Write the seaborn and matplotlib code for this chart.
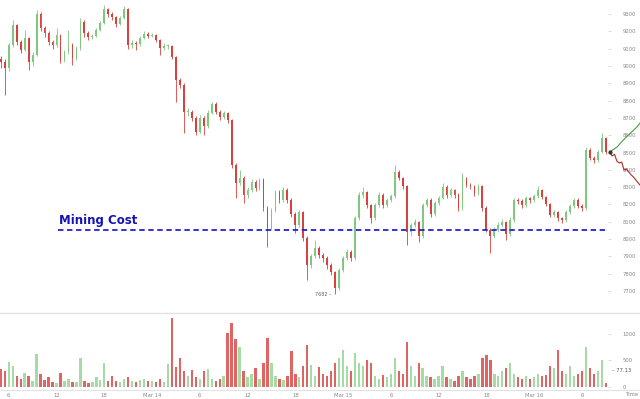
import pandas as pd
import numpy as np
import matplotlib
matplotlib.use("Agg")
import matplotlib.pyplot as plt
import matplotlib.dates as mdates
import seaborn as sns

sns.set_style("white")
plt.rcParams['font.family'] = ['DejaVu Sans']

# 30 dakikalik mumlar (13 Mart 05:00 - 16 Mart 09:00)
first_open = 9040
closes = [9022, 8988, 9121, 9236, 9138, 9092, 9161, 9022, 9063, 9300,
          9219, 9190, 9138, 9121, 9178, 9034, 9080, 9121, 9045, 9103,
          9253, 9190, 9167, 9172, 9207, 9248, 9328, 9300, 9282, 9242,
          9276, 9328, 9121, 9132, 9126, 9161, 9184, 9172, 9178, 9149,
          9103, 9115, 9115, 9051, 8918, 8890, 8734, 8734, 8699, 8618,
          8699, 8653, 8728, 8780, 8734, 8705, 8728, 8687, 8427, 8323,
          8352, 8254, 8283, 8329, 8295, 8341, 8179, 8064, 8168, 8271,
          8225, 8283, 8225, 8144, 8081, 8156, 8006, 7850, 7902, 7948,
          7908, 7890, 7850, 7809, 7717, 7821, 7890, 7925, 7890, 8121,
          8254, 8271, 8196, 8121, 8196, 8254, 8196, 8225, 8248, 8387,
          8352, 8306, 8040, 8081, 8098, 8017, 8196, 8225, 8144, 8208,
          8237, 8300, 8254, 8283, 8254, 8179, 8352, 8312, 8306, 8266,
          8306, 8179, 8052, 8017, 8052, 8081, 8098, 8029, 8110, 8225,
          8219, 8196, 8237, 8225, 8248, 8283, 8243, 8202, 8139, 8156,
          8121, 8110, 8156, 8191, 8225, 8191, 8179, 8514, 8468, 8456,
          8503, 8583, 8503]
highs = [9060, 9040, 9135, 9267, 9245, 9150, 9207, 9170, 9080, 9325,
         9310, 9230, 9200, 9150, 9219, 9185, 9095, 9207, 9130, 9115,
         9276, 9265, 9200, 9185, 9220, 9260, 9352, 9335, 9310, 9290,
         9290, 9345, 9335, 9150, 9145, 9175, 9200, 9195, 9190, 9185,
         9155, 9130, 9125, 9120, 9060, 8930, 8900, 8760, 8745, 8710,
         8715, 8710, 8745, 8791, 8790, 8745, 8740, 8735, 8695, 8440,
         8400, 8365, 8300, 8345, 8340, 8355, 8350, 8190, 8180, 8285,
         8285, 8300, 8295, 8235, 8155, 8170, 8165, 8015, 7915, 7994,
         7960, 7920, 7900, 7860, 7815, 7835, 7905, 7940, 7935, 8135,
         8270, 8300, 8280, 8205, 8210, 8270, 8265, 8240, 8260, 8427,
         8400, 8360, 8315, 8095, 8115, 8105, 8210, 8240, 8235, 8220,
         8250, 8323, 8310, 8295, 8290, 8265, 8381, 8360, 8325, 8315,
         8320, 8315, 8190, 8065, 8070, 8100, 8115, 8105, 8125, 8240,
         8240, 8230, 8250, 8245, 8260, 8306, 8290, 8250, 8210, 8170,
         8165, 8130, 8170, 8205, 8240, 8235, 8200, 8530, 8525, 8480,
         8515, 8612, 8590]
lows = [8990, 8832, 8970, 9110, 9120, 9075, 9085, 8976, 9000, 9055,
        9200, 9170, 9120, 9100, 9110, 9017, 9025, 9070, 9005, 9035,
        9095, 9170, 9150, 9155, 9165, 9200, 9240, 9285, 9265, 9225,
        9235, 9270, 9100, 9105, 9092, 9115, 9155, 9160, 9165, 9140,
        9063, 9095, 9100, 9040, 8791, 8870, 8612, 8710, 8680, 8601,
        8610, 8601, 8640, 8720, 8720, 8690, 8695, 8670, 8410, 8237,
        8310, 8208, 8240, 8270, 8280, 8285, 8160, 7954, 8050, 8155,
        8210, 8215, 8210, 8130, 8035, 8070, 7990, 7763, 7835, 7890,
        7890, 7870, 7830, 7790, 7682, 7705, 7810, 7880, 7875, 7880,
        8110, 8240, 8180, 8092, 8110, 8185, 8180, 8185, 8215, 8240,
        8340, 8290, 7965, 8020, 8070, 7983, 8005, 8185, 8130, 8135,
        8195, 8230, 8240, 8245, 8240, 8165, 8170, 8300, 8290, 8250,
        8255, 8165, 8040, 7919, 8005, 8040, 8070, 7994, 8020, 8100,
        8200, 8180, 8185, 8210, 8215, 8240, 8230, 8190, 8125, 8130,
        8105, 8095, 8100, 8145, 8180, 8180, 8165, 8170, 8455, 8440,
        8445, 8495, 8490]
volumes = [330, 300, 480, 390, 200, 150, 260, 200, 110, 630,
           240, 130, 185, 90, 80, 260, 120, 150, 90, 100,
           555, 120, 80, 90, 180, 140, 444, 120, 200, 110,
           90, 150, 190, 120, 100, 130, 150, 110, 120, 100,
           150, 90, 426, 1296, 370, 555, 300, 200, 315, 180,
           150, 296, 333, 160, 120, 150, 200, 1018, 1204, 900,
           760, 300, 180, 240, 352, 150, 444, 926, 444, 200,
           150, 130, 200, 685, 250, 180, 400, 796, 407, 200,
           380, 250, 200, 300, 450, 550, 700, 400, 300, 650,
           450, 400, 500, 450, 200, 150, 220, 180, 250, 550,
           300, 250, 850, 400, 200, 450, 350, 200, 180, 150,
           200, 400, 180, 150, 120, 200, 300, 180, 150, 200,
           250, 550, 600, 500, 250, 200, 300, 350, 450, 250,
           180, 150, 200, 150, 180, 250, 200, 220, 400, 350,
           700, 300, 250, 400, 200, 250, 300, 750, 350, 250,
           300, 500, 77]

mining_cost = 8050
price_ticks = list(range(7700, 9400, 100))
volume_ticks = [0, 500, 1000]
x_tick_labels = ["6", "12", "18", "Mar 14", "6", "12", "18", "Mar 15",
                 "6", "12", "18", "Mar 16", "6"]

# son mumdan sonra cizilen tahmin cizgileri (saat, fiyat)
proj_up_hours = [0.5, 1.4, 2.2, 3.1, 3.9, 4.3]
proj_up = [8503, 8531, 8572, 8612, 8647, 8670]
proj_down_hours = [0.5, 0.8, 1.1, 1.4, 1.7, 2.0, 2.3, 2.6, 2.9, 3.2, 3.5, 3.8, 4.1, 4.3]
proj_down = [8503, 8480, 8490, 8450, 8439, 8445, 8399, 8405, 8387, 8370, 8358, 8340, 8323, 8312]

times = pd.date_range("2018-03-13 05:00", periods=len(closes), freq="30min")
df = pd.DataFrame({"Time": times, "Close": closes, "High": highs, "Low": lows, "Volume": volumes})
df["Open"] = df["Close"].shift(1).fillna(first_open)
df["Up"] = df["Close"] >= df["Open"]

up_col, down_col = "#80c880", "#d8413d"
vup_col, vdown_col = "#a6dba6", "#e06464"

x = mdates.date2num(df["Time"])
step = 1 / 48
hour = 1 / 24
x_left = x[0] - 0.1 * hour
x_right = x_left + 608 / 7.96 * hour

fig = plt.figure(figsize=(6.4, 3.99), dpi=100)
ax = fig.add_axes([0, 86 / 399, 608 / 640, 313 / 399])
axv = fig.add_axes([0, 9 / 399, 608 / 640, 77 / 399])

# mumlar
cols = np.where(df["Up"], up_col, down_col)
ax.vlines(x, df["Low"], df["High"], color=cols, linewidth=0.6)
body = (df["Close"] - df["Open"]).abs().clip(lower=5)
ax.bar(x, body, bottom=df[["Open", "Close"]].min(axis=1), width=step * 0.45,
       color=cols, linewidth=0)

# maliyet cizgisi
mc_start = x_left + 58 / 7.96 * hour
ax.hlines(mining_cost, mc_start, x_right, color="#2323d0", linewidth=1.3,
          linestyles=(0, (3, 2)))
ax.text(mc_start + 0.1 * hour, 8088, "Mining Cost", color="#1414b4",
        fontsize=8.5, fontweight="bold", va="baseline", ha="left")

# en dusuk deger etiketi
low_i = int(np.argmin(df["Low"]))
ax.text(x[low_i] - 0.4 * hour, df["Low"][low_i] - 5, f"{df['Low'][low_i]:.0f} \u2013",
        fontsize=3.5, color="#666666", ha="right", va="center")

# tahmin cizgileri
last_x = x[-1]
ax.plot(last_x + np.array(proj_up_hours) * hour, proj_up, color="#4a9a4a",
        linewidth=0.8, clip_on=False)
ax.plot(last_x + np.array(proj_down_hours) * hour, proj_down, color="#b02a2a",
        linewidth=0.8, clip_on=False)
ax.plot([last_x + 0.5 * hour], [proj_up[0]], "o", color="#333333", markersize=2, clip_on=False)

ax.set_xlim(x_left, x_right)
ax.set_ylim(7573, 9381)
ax.set_xticks([])
ax.yaxis.tick_right()
ax.set_yticks(price_ticks)
ax.set_yticklabels([str(t) for t in price_ticks])
ax.tick_params(axis="y", length=2.5, width=0.5, color="#cccccc", labelsize=3.8,
               labelcolor="#888888", pad=8)
for s in ax.spines.values():
    s.set_visible(False)

# hacim
vcols = np.where(df["Up"], vup_col, vdown_col)
axv.bar(x, df["Volume"], width=step * 0.6, color=vcols, linewidth=0)
axv.set_xlim(x_left, x_right)
axv.set_ylim(-57, 1396)
axv.yaxis.tick_right()
axv.set_yticks(volume_ticks)
axv.set_yticklabels([str(t) for t in volume_ticks])
axv.tick_params(axis="y", length=2.5, width=0.5, color="#cccccc", labelsize=3.8,
                labelcolor="#888888", pad=8)
tick_times = pd.date_range("2018-03-13 06:00", periods=len(x_tick_labels), freq="6h")
axv.set_xticks(mdates.date2num(tick_times))
axv.set_xticklabels(x_tick_labels)
axv.tick_params(axis="x", length=0, labelsize=3.8, labelcolor="#888888", pad=2)
for s in axv.spines.values():
    s.set_visible(False)

# panel ayirici cizgiler
fig.add_artist(plt.Line2D([0, 1], [86 / 399, 86 / 399], color="#e2e2e2", linewidth=1))
fig.add_artist(plt.Line2D([0, 1], [9 / 399, 9 / 399], color="#e2e2e2", linewidth=0.8))
fig.text(612 / 640, 1 - 370 / 399, "\u2013 77.13", fontsize=3.8, color="#555555", va="center")
fig.text(626 / 640, 1 - 395 / 399, "Time", fontsize=3.8, color="#888888", va="center")

fig.savefig("out.png", dpi=100)
